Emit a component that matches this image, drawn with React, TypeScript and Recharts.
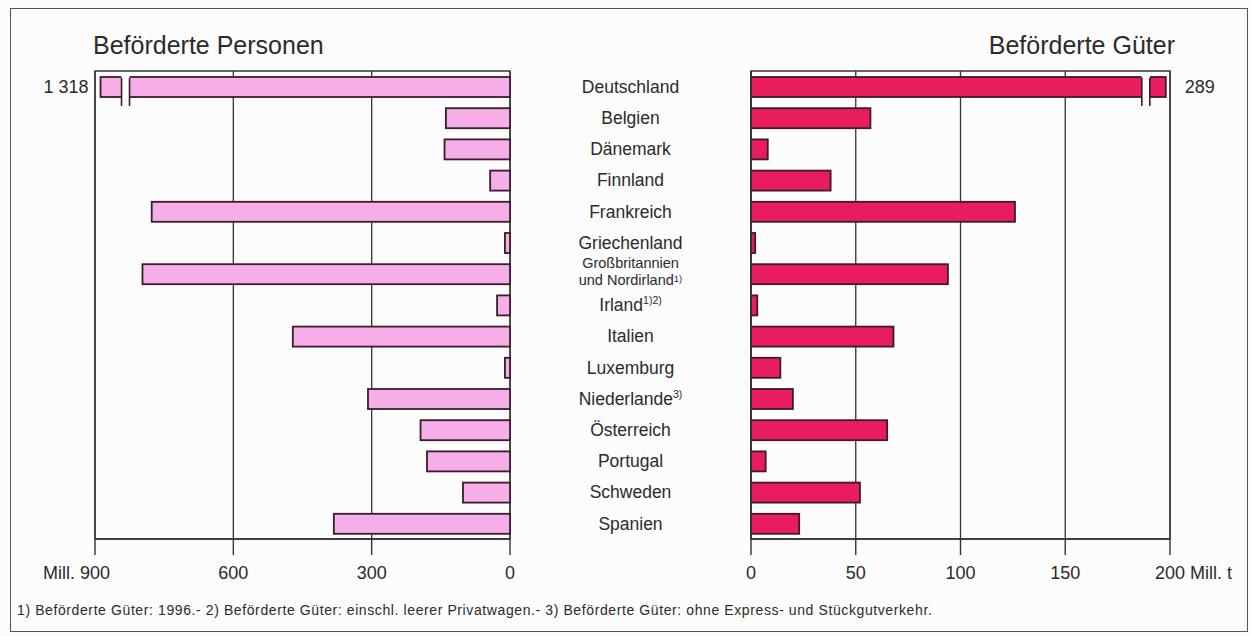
import React from "react";
import { Bar, BarChart, CartesianGrid, LabelList, ReferenceArea, XAxis, YAxis } from "recharts";

const categories = [
  "Deutschland",
  "Belgien",
  "Dänemark",
  "Finnland",
  "Frankreich",
  "Griechenland",
  "Großbritannien und Nordirland",
  "Irland",
  "Italien",
  "Luxemburg",
  "Niederlande",
  "Österreich",
  "Portugal",
  "Schweden",
  "Spanien",
];

// footnote marks per category
const marks = ["", "", "", "", "", "", "1)", "1)2)", "", "", "3)", "", "", "", ""];

// Mill. Personen
const passengers = [1318, 139, 142, 43, 777, 11, 797, 28, 471, 11, 308, 194, 180, 102, 382];
// Mill. t
const goods = [289, 57, 8, 38, 126, 2, 94, 3, 68, 14, 20, 65, 7, 52, 23];

const personTicks = [0, 300, 600, 900];
const goodsTicks = [0, 50, 100, 150, 200];

const PERSON_CAP = 888;
const GOODS_CAP = 198;

const FONT = "'Liberation Sans', Arial, Helvetica, sans-serif";
const INK = "#2b2b2b";
const LINE = "#333";
const PINK = "#f6aee8";
const RED = "#e91c5d";
const BAR_EDGE = "#3a1c2b";

const data = categories.map((name, i) => ({
  name,
  mark: marks[i],
  persons: Math.min(passengers[i], PERSON_CAP),
  goods: Math.min(goods[i], GOODS_CAP),
  personsBroken: passengers[i] > PERSON_CAP,
  goodsBroken: goods[i] > GOODS_CAP,
}));

function fmt(n: number) {
  return String(n).replace(/\B(?=(\d{3})+(?!\d))/g, " ");
}

function makeShape(fill: string, side: "left" | "right") {
  return (props: any) => {
    const { x, y, width, height, payload } = props;
    const x0 = Math.min(x, x + width);
    const w = Math.abs(width);
    const broken = side === "left" ? payload.personsBroken : payload.goodsBroken;
    let brk = null;
    if (broken) {
      const a = side === "left" ? x0 + 21 : x0 + w - 24;
      const b = a + 8;
      brk = (
        <g>
          <rect x={a} y={y - 1} width={b - a} height={height + 2} fill="#fff" />
          <line x1={a} x2={a} y1={y + 1} y2={y + height + 9} stroke={BAR_EDGE} strokeWidth={1.6} />
          <line x1={b} x2={b} y1={y + 1} y2={y + height + 9} stroke={BAR_EDGE} strokeWidth={1.6} />
        </g>
      );
    }
    return (
      <g>
        <rect x={x0} y={y} width={w} height={height} fill={fill} stroke={BAR_EDGE} strokeWidth={1.8} />
        {brk}
      </g>
    );
  };
}

function PersonTick({ x, y, payload }: any) {
  return (
    <g>
      <text x={x} y={y} dy="0.71em" textAnchor="middle" fontSize={18} fill={INK} fontFamily={FONT}>
        {payload.value}
      </text>
      {payload.value === 900 && (
        <text x={x - 20} y={y} dy="0.71em" textAnchor="end" fontSize={18} fill={INK} fontFamily={FONT}>
          Mill.
        </text>
      )}
    </g>
  );
}

function GoodsTick({ x, y, payload }: any) {
  return (
    <g>
      <text x={x} y={y} dy="0.71em" textAnchor="middle" fontSize={18} fill={INK} fontFamily={FONT}>
        {payload.value}
      </text>
      {payload.value === 200 && (
        <text x={x + 20} y={y} dy="0.71em" textAnchor="start" fontSize={18} fill={INK} fontFamily={FONT}>
          Mill. t
        </text>
      )}
    </g>
  );
}

const YAXIS_W = 241;
const LABEL_SIZE = 17.5;

function CountryTick({ x, y, payload }: any) {
  const i = categories.indexOf(payload.value);
  const mark = marks[i];
  const cx = x - YAXIS_W / 2;
  if (payload.value.startsWith("Großbritannien")) {
    return (
      <g>
        <text x={cx} y={y - 6} textAnchor="middle" fontSize={14.5} fill={INK} fontFamily={FONT}>
          Großbritannien
        </text>
        <text x={cx} y={y + 11} textAnchor="middle" fontSize={14.5} fill={INK} fontFamily={FONT}>
          und Nordirland
          <tspan fontSize={9.5} dy={-3}>
            {mark}
          </tspan>
        </text>
      </g>
    );
  }
  return (
    <text x={cx} y={y} dy="0.35em" textAnchor="middle" fontSize={LABEL_SIZE} fill={INK} fontFamily={FONT}>
      {payload.value}
      {mark ? (
        <tspan fontSize={10.5} dy={-7}>
          {mark}
        </tspan>
      ) : null}
    </text>
  );
}

const axisLine = { stroke: LINE, strokeWidth: 1.4 };

export default function App() {
  return (
    <div
      style={{
        position: "absolute",
        left: 0,
        top: 0,
        width: 1251,
        height: 636,
        background: "#fcfcfc",
        fontFamily: FONT,
        color: INK,
        overflow: "hidden",
      }}
    >
      <div
        style={{
          position: "absolute",
          left: 10,
          top: 8,
          width: 1238,
          height: 624,
          border: "1.5px solid #555",
          boxSizing: "border-box",
        }}
      />
      <div style={{ position: "absolute", left: 93, top: 31, fontSize: 25 }}>Beförderte Personen</div>
      <div style={{ position: "absolute", right: 76, top: 31, fontSize: 25 }}>Beförderte Güter</div>

      <div style={{ position: "absolute", left: 0, top: 0 }}>
        <BarChart
          width={520}
          height={636}
          layout="vertical"
          data={data}
          margin={{ top: 71, right: 10, bottom: 0, left: 95 }}
        >
          <CartesianGrid horizontal={false} stroke={LINE} strokeWidth={1.3} />
          <ReferenceArea x1={0} x2={900} fill="none" stroke={LINE} strokeWidth={1.4} />
          <XAxis
            type="number"
            domain={[0, 900]}
            ticks={personTicks}
            reversed
            interval={0}
            height={97}
            tickSize={16}
            tickMargin={11}
            axisLine={axisLine}
            tickLine={axisLine}
            tick={<PersonTick />}
          />
          <YAxis type="category" dataKey="name" hide />
          <Bar dataKey="persons" barSize={20} isAnimationActive={false} shape={makeShape(PINK, "left")}>
            <LabelList
              dataKey="persons"
              content={(p: any) =>
                data[p.index]?.personsBroken ? (
                  <text
                    x={Math.min(p.x, p.x + p.width) - 12}
                    y={p.y + p.height / 2}
                    dy="0.35em"
                    textAnchor="end"
                    fontSize={18}
                    fill={INK}
                    fontFamily={FONT}
                  >
                    {fmt(passengers[p.index])}
                  </text>
                ) : null
              }
            />
          </Bar>
        </BarChart>
      </div>

      <div style={{ position: "absolute", left: 510, top: 0 }}>
        <BarChart
          width={741}
          height={636}
          layout="vertical"
          data={data}
          margin={{ top: 71, right: 81, bottom: 0, left: 0 }}
        >
          <CartesianGrid horizontal={false} stroke={LINE} strokeWidth={1.3} />
          <ReferenceArea x1={0} x2={200} fill="none" stroke={LINE} strokeWidth={1.4} />
          <XAxis
            type="number"
            domain={[0, 200]}
            ticks={goodsTicks}
            interval={0}
            height={97}
            tickSize={16}
            tickMargin={11}
            axisLine={axisLine}
            tickLine={axisLine}
            tick={<GoodsTick />}
          />
          <YAxis
            type="category"
            dataKey="name"
            width={YAXIS_W}
            tickSize={0}
            tickMargin={0}
            interval={0}
            axisLine={axisLine}
            tickLine={false}
            tick={<CountryTick />}
          />
          <Bar dataKey="goods" barSize={20} isAnimationActive={false} shape={makeShape(RED, "right")}>
            <LabelList
              dataKey="goods"
              content={(p: any) =>
                data[p.index]?.goodsBroken ? (
                  <text
                    x={Math.max(p.x, p.x + p.width) + 19}
                    y={p.y + p.height / 2}
                    dy="0.35em"
                    textAnchor="start"
                    fontSize={18}
                    fill={INK}
                    fontFamily={FONT}
                  >
                    {goods[p.index]}
                  </text>
                ) : null
              }
            />
          </Bar>
        </BarChart>
      </div>

      <div style={{ position: "absolute", left: 17, top: 602, fontSize: 14, letterSpacing: 0.6 }}>
        1) Beförderte Güter: 1996.- 2) Beförderte Güter: einschl. leerer Privatwagen.- 3) Beförderte Güter: ohne
        Express- und Stückgutverkehr.
      </div>
    </div>
  );
}
